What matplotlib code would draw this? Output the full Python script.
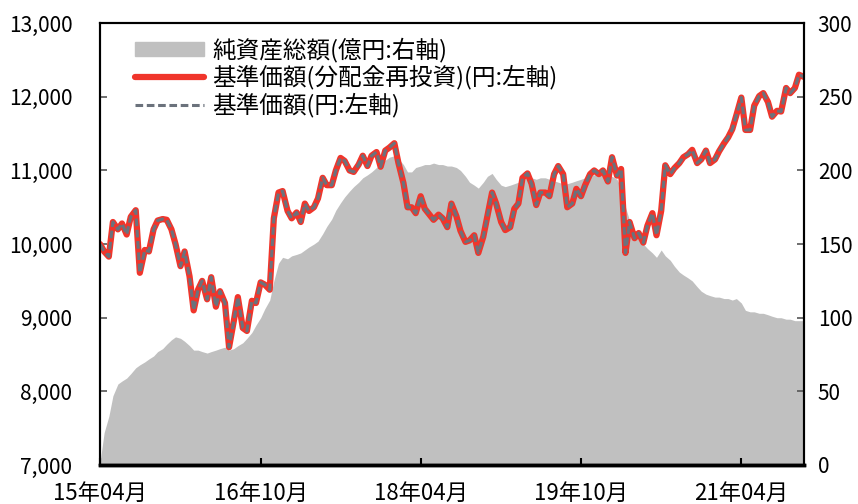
import matplotlib
matplotlib.use("Agg")
import matplotlib.pyplot as plt
import matplotlib.patches as mpatches
import matplotlib.lines as mlines
import numpy as np
import pandas as pd

plt.rcParams['font.family'] = ['Noto Sans CJK JP', 'DejaVu Sans']

# semi-monthly points, 2015-04-01 .. 2021-11-01
dates = pd.date_range('2015-04-01', periods=159, freq='SMS')

nav = [
    10000, 9900, 9830, 10300, 10200, 10280, 10130, 10370, 10460, 9610,
    9920, 9900, 10200, 10320, 10340, 10330, 10200, 10000, 9700, 9900,
    9560, 9100, 9380, 9500, 9250, 9550, 9150, 9360, 9200, 8600,
    8950, 9280, 8860, 8820, 9230, 9200, 9480, 9450, 9380, 10350,
    10700, 10720, 10450, 10350, 10430, 10300, 10550, 10450, 10500, 10620,
    10900, 10800, 10800, 11000, 11170, 11130, 11000, 10980, 11080, 11200,
    11060, 11200, 11250, 11050, 11270, 11310, 11370, 11100, 10830, 10500,
    10500, 10420, 10650, 10480, 10400, 10330, 10400, 10350, 10230, 10550,
    10380, 10180, 10030, 10050, 10120, 9880, 10100, 10380, 10700, 10550,
    10300, 10190, 10230, 10480, 10550, 10900, 10960, 10820, 10530, 10700,
    10700, 10650, 10950, 11060, 10950, 10500, 10550, 10750, 10650, 10800,
    10950, 11000, 10950, 11000, 10850, 11180, 10930, 11020, 9880, 10300,
    10080, 10150, 10020, 10250, 10420, 10120, 10450, 11070, 10950, 11030,
    11100, 11180, 11220, 11280, 11100, 11150, 11270, 11100, 11150, 11260,
    11370, 11450, 11560, 11750, 11990, 11550, 11550, 11880, 12010, 12050,
    11930, 11730, 11810, 11800, 12120, 12050, 12120, 12300, 12270,
]
# no distributions paid, so both NAV series coincide
nav_reinvest = list(nav)

aum = [
    2, 22, 33, 47, 55, 57, 59, 62, 66, 68,
    70, 72, 74, 77, 79, 82, 85, 87, 86, 84,
    81, 78, 78, 77, 76, 77, 78, 79, 80, 78,
    79, 81, 83, 86, 90, 95, 100, 106, 112, 125,
    137, 141, 140, 142, 143, 144, 146, 148, 150, 152,
    157, 162, 167, 173, 178, 182, 186, 189, 192, 195,
    197, 199, 202, 204, 207, 209, 210, 208, 204, 199,
    199, 202, 203, 204, 204, 205, 204, 204, 203, 203,
    202, 200, 196, 192, 190, 188, 192, 196, 198, 194,
    190, 189, 190, 191, 192, 194, 195, 195, 194, 195,
    195, 194, 193, 192, 191, 191, 192, 193, 194, 195,
    197, 197, 198, 198, 197, 196, 194, 188, 175, 166,
    159, 154, 150, 147, 144, 141, 146, 142, 139, 135,
    131, 129, 127, 125, 121, 118, 116, 115, 114, 114,
    113, 113, 112, 113, 110, 105, 104, 104, 103, 103,
    102, 101, 100, 100, 99, 99, 98, 98, 98,
]

tick_dates = ['2015-04-01', '2016-10-01', '2018-04-01', '2019-10-01', '2021-04-01']
tick_labels = ['15年04月', '16年10月', '18年04月', '19年10月', '21年04月']
legend_labels = ['純資産総額(億円:右軸)', '基準価額(分配金再投資)(円:左軸)', '基準価額(円:左軸)']

fig = plt.figure(figsize=(8.58, 5.04), dpi=100)
ax1 = fig.add_axes([0.1166, 0.0774, 0.8204, 0.8766])
ax2 = ax1.twinx()

ax2.fill_between(dates, 0, aum, color='#c0c0c0', linewidth=0)
ax1.plot(dates, nav_reinvest, color='#f0352b', linewidth=4.5, solid_capstyle='round')
ax1.plot(dates, nav, color='#6b727c', linewidth=2.2, linestyle=(0, (2.5, 1.2)))

ax1.set_zorder(ax2.get_zorder() + 1)
ax1.patch.set_visible(False)

ax1.set_xlim(dates[0], dates[-1])
ax1.set_ylim(7000, 13000)
ax2.set_ylim(0, 300)
ax1.set_yticks(np.arange(7000, 13001, 1000))
ax1.set_yticklabels([f'{v:,}' for v in range(7000, 13001, 1000)])
ax2.set_yticks(np.arange(0, 301, 50))
ax1.set_xticks(pd.to_datetime(tick_dates))
ax1.set_xticklabels(tick_labels)

for ax in (ax1, ax2):
    for s in ax.spines.values():
        s.set_linewidth(1.5)
    ax.spines['bottom'].set_linewidth(2.5)
    ax.tick_params(direction='in', labelsize=15, length=5, width=1.2, color='#555555')
ax1.tick_params(axis='x', pad=12, labelsize=16, color='black', width=1.5)
ax1.tick_params(axis='y', pad=20)
ax2.tick_params(axis='y', pad=10)

h_area = mpatches.Patch(color='#c0c0c0')
h_red = mlines.Line2D([], [], color='#f0352b', linewidth=4.5, solid_capstyle='round')
h_gray = mlines.Line2D([], [], color='#6b727c', linewidth=2.2, linestyle=(0, (2.5, 1.2)))
ax1.legend([h_area, h_red, h_gray], legend_labels, loc='upper left',
           bbox_to_anchor=(0.03, 1.0), frameon=False, fontsize=17,
           handlelength=2.9, handleheight=0.5, handletextpad=0.35,
           labelspacing=0.12, borderaxespad=0.2)

fig.savefig('out.png', dpi=100)
